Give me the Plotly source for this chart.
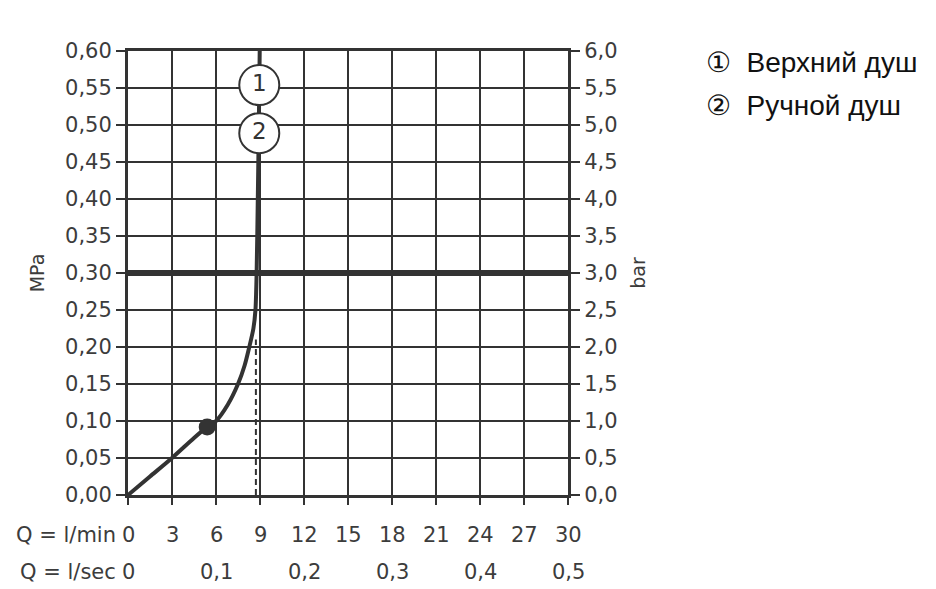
import plotly.graph_objects as go

# ---- data ----
q_curve = [0, 1.5, 3, 4.5, 5.4, 6, 6.8, 7.5, 7.95, 8.27, 8.55, 8.69, 8.77, 8.85, 8.92, 8.98]
p_curve = [0, 0.025, 0.05, 0.077, 0.092, 0.10, 0.122, 0.15, 0.175, 0.20, 0.225, 0.25, 0.30, 0.40, 0.50, 0.60]
dot_q = [5.4]
dot_p = [0.092]
dash_q = [8.72, 8.72]
dash_p = [0.0, 0.21]
ref_p = 0.30
label_q = [8.95, 8.95]
label_p = [0.554, 0.489]
label_txt = ["1", "2"]
x_ticks = [0, 3, 6, 9, 12, 15, 18, 21, 24, 27, 30]
sec_ticks = [0, 6, 12, 18, 24, 30]
sec_labels = ["0", "0,1", "0,2", "0,3", "0,4", "0,5"]
legend_items = ["①  Верхний душ", "②  Ручной душ"]

DARK = "#333333"
TXT = "#3c3c3c"
FONT = "DejaVu Sans"
FS = 21

fig = go.Figure()

fig.add_trace(go.Scatter(x=[0, 30], y=[ref_p, ref_p], mode="lines",
                         line=dict(color=DARK, width=6), hoverinfo="skip", showlegend=False))
fig.add_trace(go.Scatter(x=dash_q, y=dash_p, mode="lines",
                         line=dict(color=DARK, width=2, dash="6px,4px"), showlegend=False))
fig.add_trace(go.Scatter(x=q_curve, y=p_curve, mode="lines",
                         line=dict(color=DARK, width=4, shape="spline", smoothing=0.8),
                         showlegend=False))
fig.add_trace(go.Scatter(x=dot_q, y=dot_p, mode="markers",
                         marker=dict(color=DARK, size=17), showlegend=False))
fig.add_trace(go.Scatter(x=label_q, y=label_p, mode="markers+text", text=label_txt,
                         textposition="middle center",
                         textfont=dict(family=FONT, size=23, color=DARK),
                         marker=dict(symbol="circle", size=40, color="white",
                                     line=dict(color=DARK, width=2)),
                         showlegend=False))
fig.add_trace(go.Scatter(x=[0, 30], y=[0, 6], yaxis="y2", mode="markers",
                         marker=dict(opacity=0), hoverinfo="skip", showlegend=False))

W, H = 928, 581
fig.update_layout(
    width=W, height=H,
    margin=dict(l=120, r=W - 560, t=43, b=H - 487),
    plot_bgcolor="white", paper_bgcolor="white",
    separators=", ",
    font=dict(family=FONT, size=FS, color=TXT),
    xaxis=dict(range=[0, 30], tickvals=x_ticks,
               showgrid=True, gridcolor=DARK, gridwidth=2,
               showline=True, linecolor=DARK, linewidth=3, mirror=True,
               ticks="outside", ticklen=7, tickwidth=2, tickcolor=DARK,
               zeroline=False, showticklabels=False, fixedrange=True),
    yaxis=dict(range=[0, 0.6], dtick=0.05, tickformat=".2f",
               showgrid=True, gridcolor=DARK, gridwidth=2,
               showline=True, linecolor=DARK, linewidth=3, mirror=True,
               ticks="outside", ticklen=9, tickwidth=2, tickcolor=DARK,
               zeroline=False,
               title=dict(text="MPa", font=dict(size=19), standoff=16)),
    yaxis2=dict(range=[0, 6], dtick=0.5, tickformat=".1f", overlaying="y", side="right",
                showgrid=False, showline=True, linecolor=DARK, linewidth=3,
                ticks="outside", ticklen=9, tickwidth=2, tickcolor=DARK, zeroline=False,
                title=dict(text="bar", font=dict(size=19), standoff=16)),
)

anns = []
for v in x_ticks:
    anns.append(dict(x=v, y=0, xref="x", yref="y", yanchor="middle", yshift=-40,
                     text=str(v), showarrow=False))
for v, t in zip(sec_ticks, sec_labels):
    anns.append(dict(x=v, y=0, xref="x", yref="y", yanchor="middle", yshift=-77,
                     text=t, showarrow=False))
anns.append(dict(x=0, y=0, xref="x", yref="y", xanchor="right", yanchor="middle",
                 xshift=-10, yshift=-40, text="Q = l/min", showarrow=False))
anns.append(dict(x=0, y=0, xref="x", yref="y", xanchor="right", yanchor="middle",
                 xshift=-10, yshift=-77, text="Q = l/sec", showarrow=False))
for i, t in enumerate(legend_items):
    anns.append(dict(x=1, y=1, xref="paper", yref="paper", xanchor="left", yanchor="middle",
                     xshift=136, yshift=-11 - 43 * i, text=t, showarrow=False,
                     font=dict(family="Liberation Sans", size=28, color="#111111")))
fig.update_layout(annotations=anns)

fig.write_html("out.html")
